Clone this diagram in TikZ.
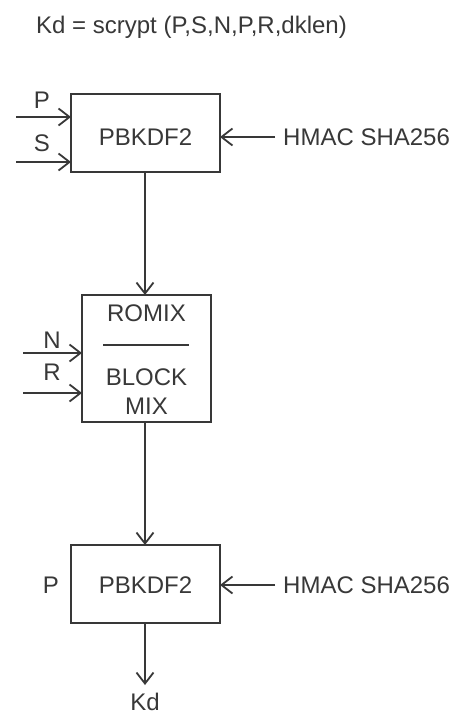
\documentclass[tikz,border=0pt]{standalone}
\usepackage{fontspec}
\setmainfont{Liberation Sans}
\usetikzlibrary{arrows.meta}
\definecolor{ink}{HTML}{383838}
\tikzset{
  x=1pt, y=-1pt,
  every node/.style={font=\fontsize{24}{27}\selectfont, text=ink, inner sep=0pt},
  blk/.style={draw=ink, line width=1.2pt},
  conn/.style={draw=ink, line width=1.4pt, -{Straight Barb[length=11pt,width=17pt,line width=1.8pt]}},
  thin/.style={draw=ink, line width=1.2pt}
}
\begin{document}
\begin{tikzpicture}
\useasboundingbox (0,0) rectangle (467,728);
\fill[white] (0,0) rectangle (467,728);
% title
\node[anchor=west] (title) at (36,27) {Kd = scrypt (P,S,N,P,R,dklen)};
% box 1
\draw[blk] (71,94) rectangle (220,172);
\node (pb1) at (145.5,137) {PBKDF2};
\node (p1) at (42,100) {P};
\node (s1) at (42,143) {S};
\coordinate (pin) at (16,117);
\coordinate (pend) at (71,117);
\coordinate (sin) at (16,162);
\coordinate (send) at (71,162);
\draw[conn] (pin) -- (pend);
\draw[conn] (sin) -- (send);
\node[anchor=west] (h1) at (283,137) {HMAC SHA256};
\coordinate (h1s) at (275,137);
\coordinate (h1e) at (220,137);
\draw[conn] (h1s) -- (h1e);
% box 2
\draw[blk] (82,295) rectangle (211,422);
\node (romix) at (146.5,313) {ROMIX};
\coordinate (l1) at (103,345);
\coordinate (l2) at (189,345);
\draw[thin] (l1) -- (l2);
\node (block) at (146.5,377) {BLOCK};
\node (mix) at (146.5,406) {MIX};
\node (n) at (52,340) {N};
\node (r) at (52,372) {R};
\coordinate (nin) at (23,353);
\coordinate (nend) at (82,353);
\coordinate (rin) at (23,393);
\coordinate (rend) at (82,393);
\draw[conn] (nin) -- (nend);
\draw[conn] (rin) -- (rend);
% connectors 1->2
\coordinate (a1) at (145,172);
\coordinate (a2) at (145,295);
\draw[conn] (a1) -- (a2);
% box 3
\draw[blk] (71,545) rectangle (220,623);
\node (pb2) at (145.5,585) {PBKDF2};
\node (p3) at (51,585) {P};
\node[anchor=west] (h2) at (283,585) {HMAC SHA256};
\coordinate (h2s) at (275,585);
\coordinate (h2e) at (220,585);
\draw[conn] (h2s) -- (h2e);
\coordinate (a3) at (145,422);
\coordinate (a4) at (145,545);
\draw[conn] (a3) -- (a4);
\coordinate (a5) at (145,623);
\coordinate (a6) at (145,685);
\draw[conn] (a5) -- (a6);
\node (kd) at (145,702) {Kd};
\end{tikzpicture}
\end{document}
